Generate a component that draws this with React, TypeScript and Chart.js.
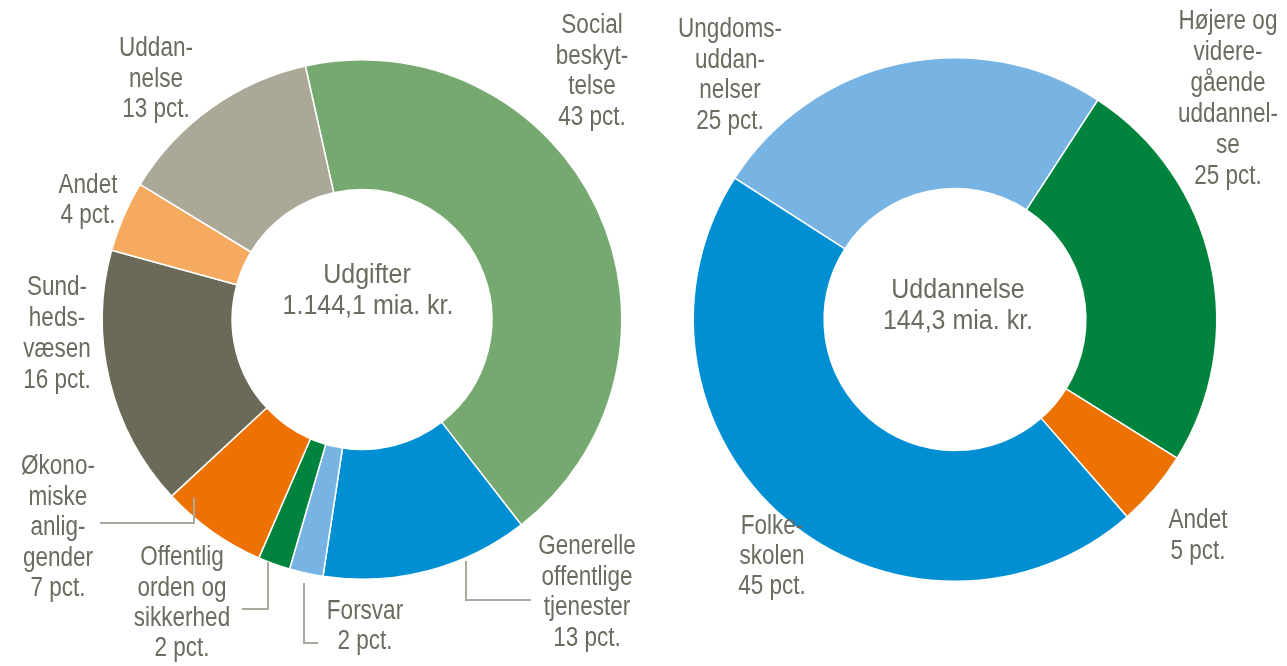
import React, { useEffect, useRef } from "react";
import { Chart, registerables } from "chart.js";

Chart.register(...registerables);

// ---------- DATA ----------
const leftCategories = [
  "Social beskyttelse",
  "Generelle offentlige tjenester",
  "Forsvar",
  "Offentlig orden og sikkerhed",
  "Økonomiske anliggender",
  "Sundhedsvæsen",
  "Andet",
  "Uddannelse",
];
const leftValues = [43.0, 12.9, 2.1, 2.0, 6.6, 16.2, 4.4, 12.8];
const leftLabelTexts = [
  ["Social", "beskyt-", "telse", "43 pct."],
  ["Generelle", "offentlige", "tjenester", "13 pct."],
  ["Forsvar", "2 pct."],
  ["Offentlig", "orden og", "sikkerhed", "2 pct."],
  ["Økono-", "miske", "anlig-", "gender", "7 pct."],
  ["Sund-", "heds-", "væsen", "16 pct."],
  ["Andet", "4 pct."],
  ["Uddan-", "nelse", "13 pct."],
];
const leftCenterText = ["Udgifter", "1.144,1 mia. kr."];

const rightCategories = [
  "Ungdomsuddannelser",
  "Højere og videregående uddannelse",
  "Andet",
  "Folkeskolen",
];
const rightValues = [25.1, 24.7, 4.7, 45.5];
const rightLabelTexts = [
  ["Ungdoms-", "uddan-", "nelser", "25 pct."],
  ["Højere og", "videre-", "gående", "uddannel-", "se", "25 pct."],
  ["Andet", "5 pct."],
  ["Folke-", "skolen", "45 pct."],
];
const rightCenterText = ["Uddannelse", "144,3 mia. kr."];

// ---------- STYLE / LAYOUT ----------
const W = 1287;
const H = 666;
const TEXT_COLOR = "#6b6b5f";
const LEADER_COLOR = "#aaa99c";
const FONT = '"Liberation Sans", Arial, sans-serif';
const LABEL_STRETCH = 1.2;

const leftColors = [
  "#76a96f",
  "#008fd3",
  "#78b4e3",
  "#00843d",
  "#ee7203",
  "#6b6a59",
  "#f6aa5f",
  "#aba898",
];
const rightColors = ["#78b4e3", "#00843d", "#ee7203", "#008fd3"];

type LabelPos = { x: number; y0: number; dy: number };
type Leader = number[][];

const leftLabelPos: LabelPos[] = [
  { x: 592, y0: 26, dy: 30.5 },
  { x: 587, y0: 547, dy: 30.5 },
  { x: 365, y0: 612, dy: 30 },
  { x: 182, y0: 558, dy: 30.2 },
  { x: 58, y0: 467, dy: 30.4 },
  { x: 57, y0: 288, dy: 30.8 },
  { x: 88, y0: 186, dy: 30 },
  { x: 156, y0: 49, dy: 30.5 },
];
const leftLeaders: Leader[] = [
  [[194, 498], [194, 523], [100, 523]],
  [[268, 562], [268, 609], [242, 609]],
  [[304, 583], [304, 643], [318, 643]],
  [[466, 561], [466, 600], [531, 600]],
];
const leftCenterPos = [
  { x: 367, y: 276 },
  { x: 368, y: 307 },
];

const rightLabelPos: LabelPos[] = [
  { x: 730, y0: 30, dy: 30.5 },
  { x: 1228, y0: 22, dy: 31 },
  { x: 1198, y0: 521, dy: 31 },
  { x: 772, y0: 527, dy: 30 },
];
const rightLeaders: Leader[] = [];
const rightCenterPos = [
  { x: 958, y: 291 },
  { x: 958, y: 322 },
];

function labelPlugin(
  texts: string[][],
  pos: LabelPos[],
  leaders: Leader[],
  center: string[],
  centerPos: { x: number; y: number }[]
) {
  return {
    id: "customLabels",
    afterDraw(chart: any) {
      const ctx = chart.ctx as CanvasRenderingContext2D;
      ctx.save();
      ctx.strokeStyle = LEADER_COLOR;
      ctx.lineWidth = 2;
      leaders.forEach((pts) => {
        ctx.beginPath();
        pts.forEach((p, i) => (i === 0 ? ctx.moveTo(p[0], p[1]) : ctx.lineTo(p[0], p[1])));
        ctx.stroke();
      });
      ctx.fillStyle = TEXT_COLOR;
      ctx.textAlign = "center";
      ctx.textBaseline = "middle";
      ctx.font = `22.5px ${FONT}`;
      texts.forEach((lines, i) => {
        const p = pos[i];
        lines.forEach((t, j) => {
          ctx.save();
          ctx.translate(p.x, p.y0 + j * p.dy);
          ctx.scale(1, LABEL_STRETCH);
          ctx.fillText(t, 0, 0);
          ctx.restore();
        });
      });
      ctx.font = `25px ${FONT}`;
      center.forEach((t, i) => {
        ctx.save();
        ctx.translate(centerPos[i].x, centerPos[i].y);
        ctx.scale(1, 1.08);
        ctx.fillText(t, 0, 0);
        ctx.restore();
      });
      ctx.restore();
    },
  };
}

function makeChart(
  canvas: HTMLCanvasElement,
  labels: string[],
  values: number[],
  colors: string[],
  rotation: number,
  padding: { left: number; right: number; top: number; bottom: number },
  plugin: any
) {
  return new Chart(canvas, {
    type: "doughnut",
    data: {
      labels,
      datasets: [
        {
          data: values,
          backgroundColor: colors,
          borderColor: "#ffffff",
          borderWidth: 1.5,
          hoverOffset: 0,
        },
      ],
    },
    options: {
      responsive: false,
      animation: false,
      rotation,
      cutout: "50%",
      layout: { padding },
      plugins: {
        legend: { display: false },
        tooltip: { enabled: false },
      },
      events: [],
    },
    plugins: [plugin],
  });
}

export default function App() {
  const leftRef = useRef<HTMLCanvasElement>(null);
  const rightRef = useRef<HTMLCanvasElement>(null);

  useEffect(() => {
    const c1 = makeChart(
      leftRef.current!,
      leftCategories,
      leftValues,
      leftColors,
      -12.6,
      { left: 101, right: W - 623, top: 59, bottom: H - 580 },
      labelPlugin(leftLabelTexts, leftLabelPos, leftLeaders, leftCenterText, leftCenterPos)
    );
    const c2 = makeChart(
      rightRef.current!,
      rightCategories,
      rightValues,
      rightColors,
      -57.3,
      { left: 692, right: W - 1218, top: 57, bottom: H - 582 },
      labelPlugin(rightLabelTexts, rightLabelPos, rightLeaders, rightCenterText, rightCenterPos)
    );
    return () => {
      c1.destroy();
      c2.destroy();
    };
  }, []);

  const canvasStyle: React.CSSProperties = {
    position: "absolute",
    left: 0,
    top: 0,
    width: W,
    height: H,
  };

  return (
    <div style={{ position: "fixed", left: 0, top: 0, width: W, height: H, background: "#ffffff" }}>
      <canvas ref={leftRef} width={W} height={H} style={canvasStyle} />
      <canvas ref={rightRef} width={W} height={H} style={canvasStyle} />
    </div>
  );
}
